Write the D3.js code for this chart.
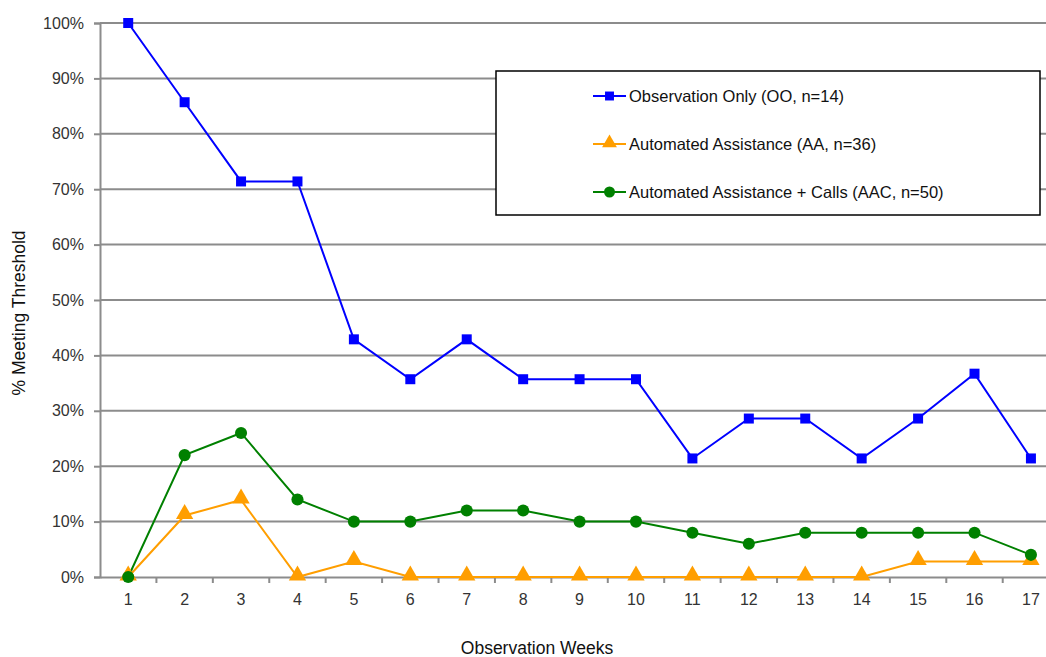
<!DOCTYPE html>
<html><head><meta charset="utf-8">
<script src="https://cdn.jsdelivr.net/npm/d3@7"></script>
<style>body{margin:0;background:#fff;overflow:hidden}svg{display:block;font-family:"Liberation Sans",Arial,sans-serif}</style>
</head><body>
<svg id="c" width="1046" height="657"></svg>
<script>
const weeks = ["1","2","3","4","5","6","7","8","9","10","11","12","13","14","15","16","17"];
const yTicks = [0,10,20,30,40,50,60,70,80,90,100];
const seriesNames = ["Observation Only (OO, n=14)","Automated Assistance (AA, n=36)","Automated Assistance + Calls (AAC, n=50)"];
const ooValues = [100,85.7,71.4,71.4,42.9,35.7,42.9,35.7,35.7,35.7,21.4,28.6,28.6,21.4,28.6,36.7,21.4];
const aaValues = [0,11.1,13.9,0,2.8,0,0,0,0,0,0,0,0,0,2.8,2.8,2.8];
const aacValues = [0,22,26,14,10,10,12,12,10,10,8,6,8,8,8,8,4];

const colors = ["#0000ff","#ff9e00","#008000"];
const symbols = [d3.symbolSquare, d3.symbolTriangle, d3.symbolCircle];
const symSizes = [100, 130, 115];
const data = [ooValues, aaValues, aacValues];

const svg = d3.select("#c");
const mLeft = 100, mTop = 23, mBottom = 577, band = 56.42;
const x = d3.scaleBand().domain(weeks).range([mLeft, mLeft + band*weeks.length]).paddingInner(0).paddingOuter(0);
const y = d3.scaleLinear().domain([0,100]).range([mBottom, mTop]);

// gridlines
svg.append("g").selectAll("line").data(yTicks.filter(d=>d>0)).join("line")
  .attr("x1", mLeft).attr("x2", 1046).attr("y1", d=>y(d)).attr("y2", d=>y(d))
  .attr("stroke","#8c8c8c").attr("stroke-width",2);

// y axis
const ya = svg.append("g").attr("transform",`translate(${mLeft},0)`)
  .call(d3.axisLeft(y).tickValues(yTicks).tickFormat(d=>d+"%").tickSize(6).tickPadding(10));
ya.select(".domain").attr("stroke","#8c8c8c").attr("stroke-width",2);
ya.selectAll(".tick line").attr("stroke","#8c8c8c").attr("stroke-width",2);
ya.selectAll(".tick text").attr("font-size",16).attr("fill","#333").attr("font-family","Liberation Sans, Arial, sans-serif");

// x axis
const xa = svg.append("g").attr("transform",`translate(0,${mBottom})`)
  .call(d3.axisBottom(x).tickSize(0).tickPadding(17));
xa.select(".domain").attr("stroke","#8c8c8c").attr("stroke-width",2);
xa.selectAll(".tick text").attr("font-size",16).attr("fill","#333").attr("font-family","Liberation Sans, Arial, sans-serif");
// category separators
svg.append("g").selectAll("line").data(weeks.slice(1)).join("line")
  .attr("x1", d=>x(d)).attr("x2", d=>x(d)).attr("y1", mBottom).attr("y2", mBottom+6)
  .attr("stroke","#8c8c8c").attr("stroke-width",2);

// axis titles
svg.append("text").attr("transform",`translate(25,313) rotate(-90)`)
  .attr("text-anchor","middle").attr("font-size",17.5).attr("fill","#111").text("% Meeting Threshold");
svg.append("text").attr("x",537).attr("y",654).attr("text-anchor","middle")
  .attr("font-size",17.5).attr("fill","#111").text("Observation Weeks");

// series
const line = d3.line().x((d,i)=>x(weeks[i])+x.bandwidth()/2).y(d=>y(d));
data.forEach((vals,k)=>{
  svg.append("path").attr("d", line(vals)).attr("fill","none").attr("stroke",colors[k]).attr("stroke-width",2);
});
data.forEach((vals,k)=>{
  svg.append("g").selectAll("path").data(vals).join("path")
    .attr("transform",(d,i)=>`translate(${x(weeks[i])+x.bandwidth()/2},${y(d)+(k===1?-1.5:0)})`)
    .attr("d", d3.symbol(symbols[k], symSizes[k])).attr("fill",colors[k]);
});

// legend
const lg = svg.append("g");
lg.append("rect").attr("x",496).attr("y",71).attr("width",544).attr("height",144)
  .attr("fill","#fff").attr("stroke","#000").attr("stroke-width",1.5);
seriesNames.forEach((n,k)=>{
  const yy = 96 + k*48;
  lg.append("line").attr("x1",593).attr("x2",626).attr("y1",yy).attr("y2",yy).attr("stroke",colors[k]).attr("stroke-width",2);
  lg.append("path").attr("transform",`translate(609.5,${yy+(k===1?-1:0)})`).attr("d",d3.symbol(symbols[k], k===0?80:95)).attr("fill",colors[k]);
  lg.append("text").attr("x",629).attr("y",yy+5.5).attr("font-size",16.5).attr("fill","#111").text(n);
});
</script>
</body></html>
